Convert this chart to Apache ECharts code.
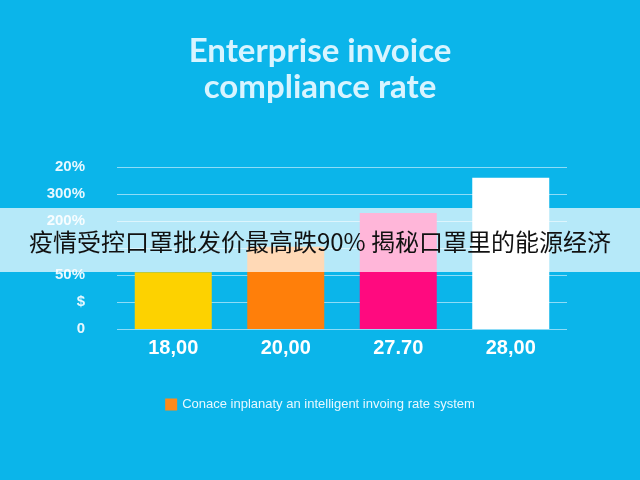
<!DOCTYPE html>
<html><head><meta charset="utf-8">
<script src="https://cdn.jsdelivr.net/npm/echarts@6/dist/echarts.min.js"></script>
<style>html,body{margin:0;padding:0;background:#0bb5ea}#c{width:640px;height:480px}</style>
</head><body><div id="c"></div>
<script>
var categories = ['18,00', '20,00', '27.70', '28,00'];
var values = [2.1, 3.05, 4.3, 5.6];
var barColors = ['#fdd200', '#ff7f0a', '#ff0a7f', '#ffffff'];
var tickLabels = ['0', '$', '50%', '', '200%', '300%', '20%'];

var chart = echarts.init(document.getElementById('c'));
chart.setOption({
    backgroundColor: '#0bb5ea',
    title: {
        text: 'Enterprise invoice\ncompliance rate',
        left: 'center', top: 28,
        textStyle: {color: '#d8f4ff', fontSize: 33, fontWeight: 'bold', fontFamily: 'Lato', lineHeight: 36}
    },
    legend: {
        bottom: 64, left: 'center', itemWidth: 12, itemHeight: 12, icon: 'rect',
        data: [{name: 'Conace inplanaty an intelligent invoing rate system', itemStyle: {color: '#ff8a1a'}}],
        textStyle: {color: '#e8f8ff', fontSize: 13}
    },
    grid: {left: 117, right: 73, top: 167, bottom: 151},
    xAxis: {
        type: 'category', data: categories,
        axisLine: {show: false}, axisTick: {show: false},
        axisLabel: {color: '#ffffff', fontSize: 20, fontWeight: 'bold', margin: 9}
    },
    yAxis: {
        type: 'value', min: 0, max: 6, interval: 1,
        axisLabel: {
            color: '#e8f8ff', fontSize: 15, fontWeight: 'bold', margin: 32,
            formatter: function (v) { return tickLabels[v]; }
        },
        splitLine: {lineStyle: {color: '#8edcf7', width: 1}}
    },
    series: [{
        name: 'Conace inplanaty an intelligent invoing rate system',
        type: 'bar', barWidth: 77,
        data: values.map(function (v, i) { return {value: v, itemStyle: {color: barColors[i]}}; })
    }],
    graphic: [{
        type: 'rect', shape: {x: 0, y: 208, width: 640, height: 64},
        style: {fill: 'rgba(255,255,255,0.7)'}, z: 100
    }, {
        type: 'text', x: 320, y: 242, z: 101,
        style: {text: '疫情受控口罩批发价最高跌90% 揭秘口罩里的能源经济', fill: '#111', font: '24px "Noto Sans CJK SC"', align: 'center', verticalAlign: 'middle'}
    }]
});
</script></body></html>
